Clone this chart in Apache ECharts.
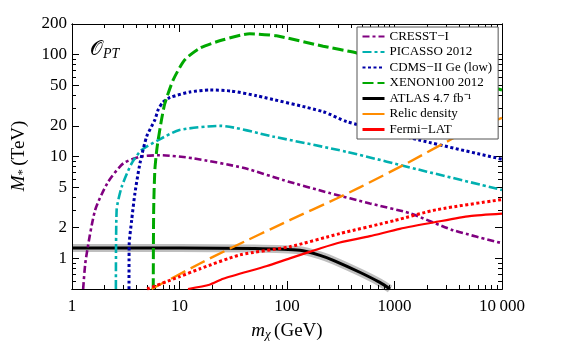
<!DOCTYPE html>
<html><head><meta charset="utf-8">
<script src="https://cdn.jsdelivr.net/npm/echarts@6/dist/echarts.min.js"></script>
<style>html,body{margin:0;padding:0;background:#fff}#c{width:569px;height:355px}</style>
</head><body><div id="c"></div>
<script>
// ---- tick values ----
const xTicksMajor = [1, 10, 100, 1000, 10000];
const xTicksMinor = [2,3,4,5,6,7,8,9,20,30,40,50,60,70,80,90,200,300,400,500,600,700,800,900,2000,3000,4000,5000,6000,7000,8000,9000];
const yTicksMajor = [1, 2, 5, 10, 20, 50, 100, 200];
const yTicksMinor = [0.6,0.7,0.8,0.9,3,4,6,7,8,9,30,40,60,70,80,90];

// ---- series data (m_chi in GeV, M_* in TeV) ----
const cresstM = [1.27,1.34,1.64,2.17,3.0,4.29,6.58,13.4,40,92,250,590,1390,3500,10000];
const cresstV = [0.5,0.955,2.97,5.65,8.56,9.96,10.3,9.6,7.7,5.87,4.37,3.46,2.77,1.89,1.41];

const picassoM = [2.56,2.6,2.9,3.59,4.45,6.35,10,23.8,74,360,2000,10000];
const picassoV = [0.5,2.97,5.04,8.56,11.6,14.5,18.2,20,15.7,11.1,7.1,4.7];

const cdmsM = [3.39,3.40,3.59,3.85,4.29,4.95,5.9,6.35,7.0,8.17,12.5,19.2,30,52,216,360,1700,10000];
const cdmsV = [0.5,1.34,2.37,4.37,8.6,15.7,22.9,29,34,38,43,45,44,39.5,27.6,22,14.5,9.4];

const xenonM = [5.7,5.75,5.9,6.2,6.8,7.3,8.76,11.2,15.5,25.5,45,80,217,446,1000,3000,10000];
const xenonV = [0.5,3,7.4,12.5,22.9,33,56.8,89,116,140,160,153,121,104,85,63,45];

const atlasM = [1,10,50,132,203,270,475,730,910];
const atlasV = [1.26,1.26,1.25,1.2,1.07,0.956,0.73,0.58,0.5];

const relicM = [5.5,15.5,29.5,106,290,475,1300,4350,10000];
const relicV = [0.5,0.89,1.25,2.37,3.87,4.97,8.56,16.9,24];

const fermiDotM = [5,10,15.5,36.5,106,310,1000,2450,10000];
const fermiDotV = [0.5,0.66,0.79,1.08,1.3,1.75,2.35,3.0,3.78];

const fermiM = [12,19,25.5,65,106,203,310,590,1120,2450,5000,10000];
const fermiV = [0.5,0.55,0.63,0.84,1.0,1.25,1.43,1.65,1.95,2.28,2.6,2.75];

const legendNames = ['CRESST\u2212I','PICASSO 2012','CDMS\u2212II Ge (low)','XENON100 2012','ATLAS 4.7 fb\u207B\u00B9','Relic density','Fermi\u2212LAT'];

const zip = (a, b) => a.map((v, i) => [v, b[i]]);
const SERIF = 'Liberation Serif';

function xAxisDef(pos, vals, len, withLabel) {
  return {
    type: 'log', logBase: 10, min: 1, max: 10000, position: pos, gridIndex: 0,
    axisLine: { show: true, onZero: false, lineStyle: { color: '#000', width: 1 } },
    axisTick: { show: true, inside: true, length: len, customValues: vals, lineStyle: { color: '#000', width: 1 } },
    axisLabel: withLabel ? { show: true, customValues: vals, margin: 9, fontFamily: SERIF, fontSize: 17, color: '#000',
      formatter: v => (v === 10000 ? '10\u2009000' : String(v)) } : { show: false },
    splitLine: { show: false }, minorTick: { show: false }
  };
}
function yAxisDef(pos, vals, len, withLabel) {
  return {
    type: 'log', logBase: 10, min: 0.5, max: 200, position: pos, gridIndex: 0,
    axisLine: { show: true, onZero: false, lineStyle: { color: '#000', width: 1 } },
    axisTick: { show: true, inside: true, length: len, customValues: vals, lineStyle: { color: '#000', width: 1 } },
    axisLabel: withLabel ? { show: true, customValues: vals, margin: 5, fontFamily: SERIF, fontSize: 17, color: '#000',
      formatter: v => String(v) } : { show: false },
    splitLine: { show: false }, minorTick: { show: false }
  };
}

function line(name, m, v, color, width, type, extra) {
  return Object.assign({
    name, type: 'line', xAxisIndex: 0, yAxisIndex: 0, data: zip(m, v),
    showSymbol: false, symbol: 'none', smooth: 0.22, clip: true,
    lineStyle: { color, width, type, cap: 'butt' }, itemStyle: { color }, emphasis: { disabled: true }
  }, extra || {});
}

const chart = echarts.init(document.getElementById('c'), null, { renderer: 'canvas' });
chart.setOption({
  animation: false,
  backgroundColor: '#fff',
  grid: { left: 72, top: 24, right: 67, bottom: 66, containLabel: false },
  xAxis: [
    xAxisDef('bottom', xTicksMajor, 8, true),
    xAxisDef('bottom', xTicksMinor, 4, false),
    xAxisDef('top', xTicksMajor, 8, false),
    xAxisDef('top', xTicksMinor, 4, false)
  ],
  yAxis: [
    yAxisDef('left', yTicksMajor, 7, true),
    yAxisDef('left', yTicksMinor, 4, false),
    yAxisDef('right', yTicksMajor, 7, false),
    yAxisDef('right', yTicksMinor, 4, false)
  ],
  legend: {
    orient: 'vertical', left: 357, top: 27, selectedMode: false,
    backgroundColor: '#fff', borderColor: '#555', borderWidth: 1, borderRadius: 0,
    padding: [3, 6, 3, 4], itemWidth: 22, itemHeight: 12, itemGap: 2.5,
    itemStyle: { opacity: 0 },
    textStyle: { fontFamily: SERIF, fontSize: 13, lineHeight: 13, color: '#000' },
    data: [
      { name: legendNames[0] }, { name: legendNames[1] }, { name: legendNames[2] }, { name: legendNames[3] },
      { name: legendNames[4], lineStyle: { width: 3 } },
      { name: legendNames[5], lineStyle: { type: 'solid', width: 2 } },
      { name: legendNames[6], lineStyle: { type: 'solid', width: 3 } }
    ]
  },
  series: [
    line('ATLAS band', atlasM, atlasV, 'rgba(0,0,0,0.25)', 8, 'solid'),
    line(legendNames[4], atlasM, atlasV, '#000', 3, 'solid'),
    line(legendNames[0], cresstM, cresstV, '#800080', 2.6, [7, 3, 3, 3]),
    line(legendNames[1], picassoM, picassoV, '#00b0b0', 2.6, [9, 3, 3, 3]),
    line(legendNames[2], cdmsM, cdmsV, '#0000a8', 3, [3, 2.5]),
    line(legendNames[3], xenonM, xenonV, '#00a800', 3, [11, 4]),
    line(legendNames[5], relicM, relicV, '#ff8c00', 2.4, [16, 6]),
    line('Fermi dotted', fermiDotM, fermiDotV, '#ff0000', 3, [3, 2.5]),
    line(legendNames[6], fermiM, fermiV, '#ff0000', 2.2, 'solid')
  ],
  graphic: [
    { type: 'text', left: 90, top: 40, style: { text: '{o|\uD835\uDCAA}{s|PT}', rich: {
      o: { fontFamily: 'DejaVu Serif', fontSize: 20, fill: '#000' },
      s: { fontFamily: SERIF, fontStyle: 'italic', fontSize: 14, fill: '#000', padding: [8, 0, 0, 0] } } } },
    { type: 'text', x: 287, y: 331, style: { text: '{i|m}{s|\u03C7} {n|(GeV)}', align: 'center', verticalAlign: 'middle', rich: {
      i: { fontFamily: SERIF, fontStyle: 'italic', fontSize: 19, fill: '#000' },
      s: { fontFamily: SERIF, fontStyle: 'italic', fontSize: 13, fill: '#000', padding: [8, 0, 0, 0] },
      n: { fontFamily: SERIF, fontSize: 19, fill: '#000' } } } },
    { type: 'text', x: 19, y: 156, rotation: Math.PI / 2, style: { text: '{i|M}{s|*} {n|(TeV)}', align: 'center', verticalAlign: 'middle', rich: {
      i: { fontFamily: SERIF, fontStyle: 'italic', fontSize: 19, fill: '#000' },
      s: { fontFamily: SERIF, fontSize: 13, fill: '#000', padding: [8, 0, 0, 0] },
      n: { fontFamily: SERIF, fontSize: 19, fill: '#000' } } } }
  ]
});
</script></body></html>
